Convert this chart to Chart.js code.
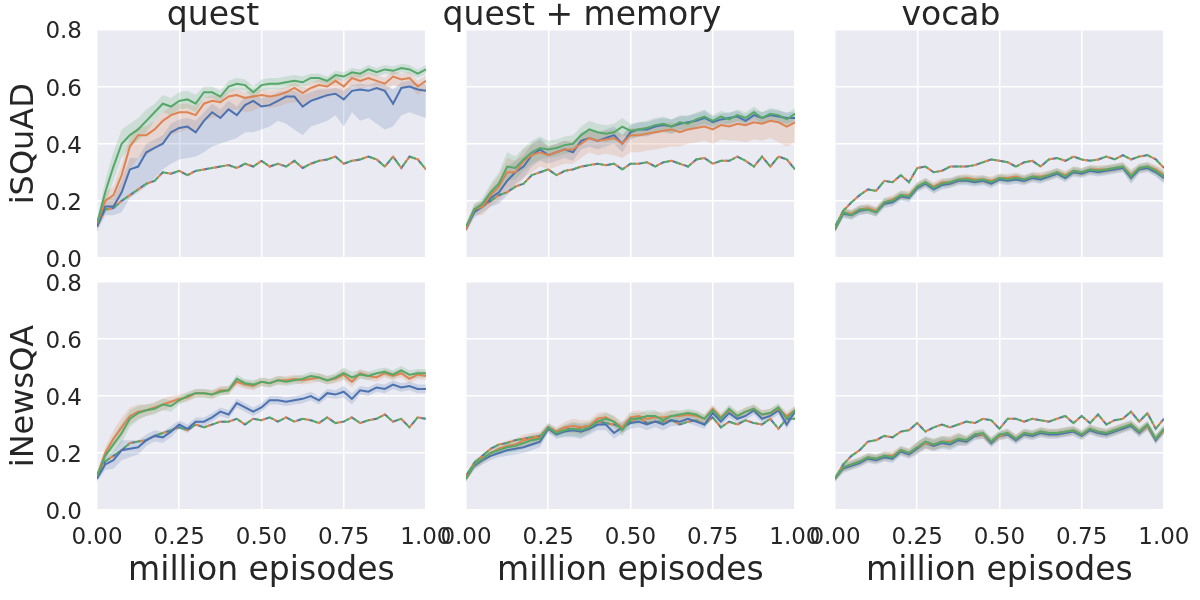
<!doctype html>
<html>
<head>
<meta charset="utf-8">
<title>quest / quest + memory / vocab</title>
<script src="https://cdn.jsdelivr.net/npm/chart.js@4.4.1/dist/chart.umd.min.js"></script>
<style>
html, body { margin: 0; padding: 0; background: #fff; }
#wrap { position: relative; width: 1200px; height: 600px; overflow: hidden; }
#wrap div { position: absolute; }
</style>
</head>
<body>
<div id="wrap"></div>
<script>

// x positions, million episodes
var episodes = [0,0.025,0.05,0.075,0.1,0.125,0.15,0.175,0.2,0.225,0.25,0.275,0.3,0.325,0.35,0.375,0.4,0.425,0.45,0.475,0.5,0.525,0.55,0.575,0.6,0.625,0.65,0.675,0.7,0.725,0.75,0.775,0.8,0.825,0.85,0.875,0.9,0.925,0.95,0.975,1];
var xTicks = [0, 0.25, 0.5, 0.75, 1];
var yTicks = [0, 0.2, 0.4, 0.6, 0.8];
var colTitles = ['quest', 'quest + memory', 'vocab'];
var rowTitles = ['iSQuAD', 'iNewsQA'];

// ---- iSQuAD / quest ----
var isqQuestBlue = [0.11,0.18,0.18,0.23,0.31,0.32,0.37,0.385,0.40,0.44, 0.455,0.46,0.44,0.48,0.51,0.49,0.52,0.50,0.535,0.55, 0.53,0.535,0.55,0.565,0.565,0.53,0.55,0.56,0.57,0.575, 0.555,0.585,0.59,0.585,0.595,0.585,0.54,0.595,0.60,0.59, 0.585];
var isqQuestBlueLo = [0.02,0.03,0.03,0.07,0.10,0.09,0.12,0.105,0.09,0.11, 0.11,0.11,0.085,0.11,0.12,0.09,0.11,0.08,0.095,0.11, 0.08,0.075,0.07,0.095,0.115,0.10,0.09,0.09,0.09,0.075, 0.095,0.075,0.11,0.095,0.125,0.135,0.08,0.095,0.09,0.09, 0.095];
var isqQuestBlueHi = [0.01,0.03,0.03,0.04,0.04,0.03,0.03,0.03,0.03,0.03, 0.03,0.03,0.04,0.03,0.03,0.03,0.03,0.03,0.03,0.02, 0.03,0.03,0.03,0.02,0.02,0.04,0.03,0.03,0.02,0.02, 0.03,0.02,0.02,0.02,0.02,0.02,0.05,0.02,0.02,0.02, 0.02];
var isqQuestOrange = [0.12,0.20,0.22,0.29,0.39,0.43,0.43,0.45,0.48,0.50, 0.51,0.51,0.50,0.54,0.55,0.545,0.565,0.57,0.56,0.565, 0.57,0.565,0.57,0.58,0.595,0.577,0.595,0.605,0.60,0.62, 0.60,0.63,0.62,0.63,0.62,0.61,0.635,0.625,0.63,0.60, 0.62];
var isqQuestOrangeLo = [0.02,0.04,0.05,0.07,0.08,0.08,0.07,0.07,0.07,0.07, 0.07,0.06,0.06,0.06,0.06,0.05,0.05,0.05,0.05,0.05, 0.04,0.04,0.04,0.04,0.05,0.04,0.04,0.04,0.04,0.04, 0.04,0.03,0.03,0.03,0.03,0.03,0.03,0.03,0.03,0.03, 0.03];
var isqQuestOrangeHi = [0.01,0.03,0.03,0.04,0.03,0.03,0.03,0.03,0.03,0.03, 0.03,0.03,0.03,0.02,0.02,0.02,0.02,0.02,0.02,0.02, 0.02,0.02,0.02,0.02,0.02,0.02,0.02,0.02,0.02,0.02, 0.02,0.02,0.02,0.02,0.02,0.02,0.02,0.02,0.02,0.02, 0.02];
var isqQuestGreen = [0.12,0.23,0.32,0.40,0.43,0.45,0.48,0.51,0.54,0.53, 0.55,0.555,0.54,0.58,0.58,0.565,0.60,0.61,0.605,0.58, 0.605,0.61,0.61,0.615,0.62,0.615,0.63,0.63,0.62,0.64, 0.635,0.65,0.645,0.66,0.65,0.66,0.655,0.665,0.66,0.645, 0.66];
var isqQuestGreenSd = [0.01,0.04,0.05,0.05,0.04,0.04,0.04,0.03,0.03,0.03, 0.03,0.03,0.03,0.02,0.02,0.02,0.02,0.02,0.02,0.02, 0.02,0.02,0.02,0.02,0.02,0.02,0.015,0.015,0.015,0.015, 0.015,0.015,0.015,0.015,0.015,0.015,0.015,0.015,0.015,0.015, 0.015];
var isqQuestDashed = [0.11,0.17,0.175,0.20,0.22,0.24,0.26,0.27,0.30,0.295, 0.305,0.29,0.305,0.31,0.315,0.32,0.325,0.315,0.33,0.32, 0.34,0.32,0.33,0.32,0.34,0.315,0.33,0.34,0.345,0.355, 0.33,0.34,0.345,0.355,0.345,0.32,0.355,0.315,0.355,0.345, 0.31];

// ---- iSQuAD / quest + memory ----
var isqMemBlue = [0.10,0.16,0.18,0.21,0.23,0.27,0.30,0.32,0.36,0.38, 0.36,0.37,0.38,0.37,0.41,0.42,0.41,0.42,0.43,0.40, 0.44,0.45,0.45,0.46,0.465,0.46,0.47,0.475,0.48,0.49, 0.475,0.485,0.49,0.495,0.48,0.50,0.49,0.50,0.495,0.49, 0.49];
var isqMemOrange = [0.10,0.17,0.18,0.22,0.25,0.30,0.30,0.34,0.36,0.37, 0.36,0.37,0.38,0.38,0.40,0.42,0.41,0.415,0.42,0.40, 0.43,0.43,0.435,0.44,0.445,0.45,0.44,0.45,0.455,0.46, 0.45,0.465,0.46,0.47,0.465,0.475,0.47,0.48,0.475,0.46, 0.475];
var isqMemOrangeLo = [0.01,0.02,0.03,0.04,0.05,0.06,0.06,0.06,0.06,0.05, 0.05,0.05,0.05,0.05,0.05,0.05,0.05,0.05,0.06,0.05, 0.06,0.06,0.06,0.06,0.06,0.06,0.05,0.05,0.05,0.05, 0.05,0.05,0.05,0.06,0.06,0.06,0.06,0.06,0.07,0.07, 0.07];
var isqMemGreen = [0.11,0.17,0.19,0.23,0.26,0.32,0.315,0.345,0.37,0.385, 0.38,0.385,0.395,0.40,0.43,0.45,0.44,0.435,0.44,0.46, 0.445,0.45,0.455,0.465,0.47,0.46,0.475,0.47,0.485,0.495, 0.48,0.495,0.485,0.50,0.49,0.51,0.49,0.505,0.50,0.485, 0.505];
var isqMemSd = [0.01,0.02,0.02,0.03,0.04,0.05,0.04,0.04,0.04,0.04, 0.03,0.03,0.03,0.03,0.03,0.03,0.03,0.03,0.03,0.03, 0.025,0.025,0.025,0.025,0.025,0.025,0.025,0.025,0.025,0.025, 0.02,0.02,0.02,0.02,0.02,0.02,0.02,0.02,0.02,0.02, 0.02];
var isqMemDashed = [0.10,0.17,0.18,0.20,0.22,0.23,0.25,0.26,0.29,0.30, 0.31,0.29,0.305,0.31,0.32,0.325,0.33,0.325,0.33,0.31, 0.33,0.33,0.335,0.32,0.335,0.34,0.33,0.32,0.345,0.35, 0.33,0.34,0.34,0.355,0.34,0.32,0.355,0.32,0.355,0.345, 0.31];

// ---- iSQuAD / vocab ----
var isqVocabBlue = [0.10,0.155,0.15,0.165,0.17,0.16,0.19,0.195,0.215,0.21, 0.245,0.26,0.24,0.255,0.26,0.27,0.27,0.265,0.27,0.26, 0.275,0.27,0.275,0.27,0.28,0.275,0.285,0.295,0.28,0.30, 0.295,0.305,0.30,0.305,0.31,0.315,0.28,0.31,0.315,0.30, 0.28];
var isqVocabOrange = [0.10,0.16,0.155,0.17,0.175,0.165,0.195,0.205,0.22,0.22, 0.25,0.265,0.25,0.265,0.265,0.275,0.28,0.275,0.275,0.27, 0.28,0.28,0.285,0.275,0.285,0.285,0.29,0.30,0.29,0.305, 0.30,0.31,0.31,0.31,0.315,0.32,0.29,0.315,0.32,0.31, 0.29];
var isqVocabGreen = [0.10,0.16,0.15,0.17,0.17,0.16,0.195,0.20,0.22,0.215, 0.25,0.265,0.245,0.26,0.265,0.275,0.275,0.27,0.275,0.265, 0.28,0.275,0.28,0.275,0.285,0.28,0.29,0.30,0.285,0.305, 0.30,0.31,0.305,0.31,0.315,0.32,0.285,0.315,0.32,0.305, 0.285];
var isqVocabSd = [0.01,0.015,0.015,0.015,0.015,0.015,0.015,0.015,0.015,0.015, 0.015,0.015,0.015,0.015,0.015,0.015,0.015,0.015,0.015,0.015, 0.015,0.015,0.015,0.015,0.015,0.015,0.015,0.015,0.015,0.015, 0.015,0.015,0.015,0.015,0.015,0.015,0.02,0.015,0.015,0.015, 0.02];
var isqVocabDashed = [0.11,0.165,0.195,0.22,0.24,0.235,0.27,0.265,0.29,0.265, 0.315,0.32,0.30,0.305,0.32,0.32,0.32,0.325,0.335,0.345, 0.34,0.335,0.32,0.335,0.34,0.32,0.345,0.35,0.34,0.355, 0.345,0.34,0.345,0.355,0.345,0.36,0.345,0.355,0.36,0.345, 0.315];

// ---- iNewsQA / quest ----
var nqaQuestBlue = [0.11,0.16,0.175,0.21,0.215,0.22,0.245,0.26,0.255,0.275, 0.30,0.285,0.31,0.31,0.325,0.345,0.335,0.375,0.36,0.345, 0.36,0.385,0.385,0.38,0.385,0.39,0.40,0.385,0.41,0.405, 0.415,0.39,0.42,0.415,0.43,0.425,0.44,0.43,0.435,0.425, 0.425];
var nqaQuestOrange = [0.12,0.20,0.25,0.29,0.33,0.345,0.35,0.36,0.37,0.38, 0.39,0.395,0.41,0.41,0.405,0.42,0.42,0.45,0.44,0.435, 0.45,0.445,0.455,0.455,0.46,0.455,0.46,0.465,0.455,0.46, 0.475,0.45,0.48,0.47,0.465,0.48,0.47,0.48,0.46,0.475, 0.47];
var nqaQuestGreen = [0.12,0.19,0.23,0.27,0.32,0.34,0.35,0.355,0.37,0.365, 0.385,0.40,0.41,0.41,0.405,0.415,0.42,0.46,0.445,0.44, 0.45,0.445,0.455,0.45,0.455,0.46,0.47,0.465,0.455,0.465, 0.48,0.465,0.475,0.47,0.48,0.485,0.475,0.49,0.475,0.48, 0.48];
var nqaQuestSd = [0.01,0.02,0.03,0.035,0.03,0.025,0.02,0.02,0.02,0.02, 0.015,0.015,0.015,0.015,0.015,0.015,0.015,0.015,0.015,0.015, 0.015,0.015,0.015,0.015,0.015,0.015,0.015,0.015,0.015,0.015, 0.02,0.02,0.015,0.015,0.015,0.015,0.015,0.015,0.015,0.015, 0.015];
var nqaQuestDashed = [0.12,0.17,0.19,0.21,0.235,0.24,0.245,0.26,0.27,0.28, 0.29,0.28,0.30,0.29,0.30,0.31,0.31,0.32,0.30,0.32, 0.315,0.325,0.31,0.325,0.31,0.32,0.315,0.305,0.325,0.305, 0.31,0.325,0.305,0.315,0.32,0.335,0.31,0.32,0.29,0.325, 0.32];

// ---- iNewsQA / quest + memory ----
var nqaMemBlue = [0.11,0.155,0.175,0.19,0.20,0.21,0.215,0.22,0.23,0.24, 0.285,0.265,0.275,0.28,0.275,0.285,0.30,0.30,0.27,0.29, 0.305,0.31,0.30,0.31,0.30,0.315,0.31,0.32,0.31,0.30, 0.34,0.31,0.34,0.32,0.33,0.35,0.32,0.33,0.35,0.30, 0.345];
var nqaMemOrange = [0.11,0.16,0.18,0.20,0.215,0.225,0.23,0.245,0.25,0.255, 0.29,0.275,0.29,0.295,0.29,0.295,0.32,0.325,0.31,0.29, 0.325,0.33,0.32,0.325,0.325,0.33,0.33,0.335,0.33,0.32, 0.355,0.325,0.35,0.33,0.345,0.355,0.335,0.34,0.355,0.33, 0.35];
var nqaMemGreen = [0.11,0.16,0.18,0.20,0.21,0.22,0.225,0.235,0.245,0.25, 0.29,0.27,0.28,0.285,0.28,0.29,0.31,0.32,0.31,0.28, 0.32,0.32,0.33,0.33,0.315,0.33,0.335,0.34,0.335,0.32, 0.35,0.32,0.355,0.33,0.345,0.355,0.335,0.34,0.36,0.32, 0.35];
var nqaMemSd = [0.01,0.015,0.015,0.015,0.015,0.02,0.02,0.02,0.02,0.02, 0.015,0.015,0.02,0.025,0.025,0.02,0.02,0.02,0.02,0.02, 0.02,0.02,0.02,0.02,0.02,0.02,0.015,0.015,0.015,0.015, 0.015,0.015,0.015,0.015,0.015,0.015,0.015,0.015,0.015,0.015, 0.015];
var nqaMemDashed = [0.12,0.165,0.19,0.215,0.23,0.235,0.245,0.25,0.255,0.26, 0.29,0.275,0.29,0.28,0.29,0.295,0.31,0.305,0.30,0.29, 0.31,0.325,0.305,0.31,0.31,0.315,0.30,0.31,0.315,0.30, 0.325,0.29,0.31,0.30,0.315,0.305,0.30,0.32,0.285,0.32, 0.32];

// ---- iNewsQA / vocab ----
var nqaVocabBlue = [0.11,0.145,0.155,0.165,0.18,0.175,0.185,0.18,0.205,0.195, 0.215,0.235,0.225,0.235,0.23,0.245,0.24,0.26,0.265,0.235, 0.26,0.265,0.245,0.265,0.26,0.27,0.265,0.265,0.27,0.275, 0.26,0.28,0.27,0.265,0.275,0.285,0.295,0.27,0.295,0.245, 0.28];
var nqaVocabOrange = [0.11,0.15,0.16,0.17,0.185,0.18,0.19,0.19,0.21,0.20, 0.22,0.235,0.23,0.24,0.24,0.25,0.245,0.265,0.265,0.24, 0.26,0.27,0.25,0.27,0.265,0.275,0.27,0.27,0.275,0.28, 0.265,0.285,0.275,0.27,0.28,0.29,0.30,0.275,0.295,0.25, 0.28];
var nqaVocabGreen = [0.11,0.15,0.16,0.17,0.185,0.18,0.19,0.185,0.21,0.20, 0.22,0.24,0.23,0.24,0.235,0.25,0.245,0.265,0.27,0.24, 0.265,0.27,0.25,0.27,0.265,0.275,0.27,0.27,0.275,0.28, 0.265,0.285,0.275,0.27,0.28,0.29,0.30,0.275,0.30,0.25, 0.285];
var nqaVocabSd = [0.01,0.015,0.015,0.015,0.015,0.015,0.015,0.015,0.015,0.015, 0.02,0.02,0.02,0.02,0.02,0.02,0.015,0.015,0.015,0.015, 0.015,0.015,0.015,0.015,0.015,0.015,0.015,0.015,0.015,0.015, 0.015,0.015,0.015,0.015,0.015,0.015,0.015,0.015,0.015,0.015, 0.015];
var nqaVocabDashed = [0.11,0.16,0.19,0.21,0.24,0.245,0.26,0.255,0.275,0.28, 0.305,0.275,0.29,0.30,0.29,0.30,0.31,0.305,0.32,0.315, 0.285,0.32,0.32,0.31,0.32,0.315,0.31,0.32,0.33,0.305, 0.33,0.305,0.335,0.30,0.315,0.32,0.345,0.31,0.34,0.285, 0.32];

// which arrays go in which panel: [mean, lower spread, upper spread] per run
var panels = [
  { row: 0, col: 0, dashed: isqQuestDashed, runs: [
    [isqQuestBlue, isqQuestBlueLo, isqQuestBlueHi],
    [isqQuestOrange, isqQuestOrangeLo, isqQuestOrangeHi],
    [isqQuestGreen, isqQuestGreenSd, isqQuestGreenSd]] },
  { row: 0, col: 1, dashed: isqMemDashed, runs: [
    [isqMemBlue, isqMemSd, isqMemSd],
    [isqMemOrange, isqMemOrangeLo, isqMemSd],
    [isqMemGreen, isqMemSd, isqMemSd]] },
  { row: 0, col: 2, dashed: isqVocabDashed, runs: [
    [isqVocabBlue, isqVocabSd, isqVocabSd],
    [isqVocabOrange, isqVocabSd, isqVocabSd],
    [isqVocabGreen, isqVocabSd, isqVocabSd]] },
  { row: 1, col: 0, dashed: nqaQuestDashed, runs: [
    [nqaQuestBlue, nqaQuestSd, nqaQuestSd],
    [nqaQuestOrange, nqaQuestSd, nqaQuestSd],
    [nqaQuestGreen, nqaQuestSd, nqaQuestSd]] },
  { row: 1, col: 1, dashed: nqaMemDashed, runs: [
    [nqaMemBlue, nqaMemSd, nqaMemSd],
    [nqaMemOrange, nqaMemSd, nqaMemSd],
    [nqaMemGreen, nqaMemSd, nqaMemSd]] },
  { row: 1, col: 2, dashed: nqaVocabDashed, runs: [
    [nqaVocabBlue, nqaVocabSd, nqaVocabSd],
    [nqaVocabOrange, nqaVocabSd, nqaVocabSd],
    [nqaVocabGreen, nqaVocabSd, nqaVocabSd]] }
];

// seaborn "deep"
var colors = [[76, 114, 176], [221, 132, 82], [85, 168, 104]];
function rgba(c, a) { return 'rgba(' + c[0] + ',' + c[1] + ',' + c[2] + ',' + a + ')'; }

// plot area placement on the page
var colLeft = [97, 466, 835];
var rowTop = [29.5, 282];
var plotW = 329;
var plotH = [229, 228];
var ML = 97, MR = 40;
var titleSize = 33, titleLH = 0.8, titleBox = titleSize * titleLH;

Chart.defaults.font.family = "'DejaVu Sans', sans-serif";
Chart.defaults.color = '#262626';

var bgPlugin = {
  id: 'darkgrid',
  beforeDraw: function (chart) {
    var a = chart.chartArea, ctx = chart.ctx;
    ctx.save();
    ctx.fillStyle = '#EAEAF2';
    ctx.fillRect(a.left, a.top, a.right - a.left, a.bottom - a.top);
    ctx.restore();
  }
};

function pts(arr) {
  return episodes.map(function (x, i) { return { x: x, y: arr[i] }; });
}
function shifted(mean, off, sign) {
  return mean.map(function (v, i) { return v + sign * off[i]; });
}

var wrap = document.getElementById('wrap');

panels.forEach(function (p) {
  var isTop = p.row === 0, isBottom = p.row === 1, isLeft = p.col === 0;
  var mt = isTop ? titleBox : 10;
  var mb = isBottom ? 87 : 10;
  var w = plotW + ML + MR, h = Math.round(plotH[p.row] + mt + mb);

  var box = document.createElement('div');
  box.style.left = (colLeft[p.col] - ML) + 'px';
  box.style.top = (rowTop[p.row] - mt) + 'px';
  box.style.width = w + 'px';
  box.style.height = h + 'px';
  var cv = document.createElement('canvas');
  cv.width = w; cv.height = h;
  box.appendChild(cv);
  wrap.appendChild(box);

  var datasets = [];
  // shaded bands
  p.runs.forEach(function (r, k) {
    var lowIdx = datasets.length;
    datasets.push({ data: pts(shifted(r[0], r[1], -1)), borderWidth: 0, pointRadius: 0, fill: false, order: 30 - k });
    datasets.push({ data: pts(shifted(r[0], r[2], 1)), borderWidth: 0, pointRadius: 0,
      fill: lowIdx, backgroundColor: rgba(colors[k], 0.2), order: 30 - k });
  });
  // dashed baselines (three runs on top of each other)
  colors.forEach(function (c, k) {
    datasets.push({ data: pts(p.dashed), borderColor: rgba(c, 1), borderWidth: 2,
      borderDash: [6, 6], borderDashOffset: k * 4, pointRadius: 0, fill: false, order: 20 - k });
  });
  // solid runs
  p.runs.forEach(function (r, k) {
    datasets.push({ data: pts(r[0]), borderColor: rgba(colors[k], 1), borderWidth: 2,
      pointRadius: 0, fill: false, order: 10 - k });
  });

  new Chart(cv, {
    type: 'line',
    data: { datasets: datasets },
    plugins: [bgPlugin],
    options: {
      responsive: false,
      animation: false,
      events: [],
      layout: { padding: { left: 0, right: MR, top: isTop ? 0 : mt, bottom: 0 } },
      elements: { line: { tension: 0 } },
      plugins: {
        legend: { display: false },
        tooltip: { enabled: false },
        title: {
          display: isTop,
          text: colTitles[p.col],
          font: { size: titleSize, weight: 'normal', lineHeight: titleLH },
          padding: { top: 0, bottom: 0 }
        }
      },
      scales: {
        x: {
          type: 'linear', min: 0, max: 1,
          afterBuildTicks: function (s) { s.ticks = xTicks.map(function (v) { return { value: v }; }); },
          afterFit: function (s) { s.height = mb; },
          border: { display: false },
          grid: { color: '#ffffff', lineWidth: 1.5, drawTicks: false },
          ticks: { display: isBottom, maxRotation: 0, autoSkip: false, padding: 14.5,
            font: { size: 23 }, callback: function (v) { return v.toFixed(2); } },
          title: { display: isBottom, text: 'million episodes',
            font: { size: titleSize, lineHeight: 1.2 }, padding: { top: 0, bottom: 5.6 } }
        },
        y: {
          min: 0, max: 0.8,
          afterBuildTicks: function (s) { s.ticks = yTicks.map(function (v) { return { value: v }; }); },
          afterFit: function (s) { s.width = ML; s.paddingTop = 0; s.paddingBottom = 0; },
          border: { display: false },
          grid: { color: '#ffffff', lineWidth: 1.5, drawTicks: false },
          ticks: { display: isLeft, padding: 15, labelOffset: 3, font: { size: 23 },
            callback: function (v) { return v.toFixed(1); } },
          title: { display: isLeft, text: rowTitles[p.row],
            font: { size: 32, lineHeight: 1.2 }, padding: { top: 5, bottom: 0 } }
        }
      }
    }
  });
});
</script>
</body>
</html>
